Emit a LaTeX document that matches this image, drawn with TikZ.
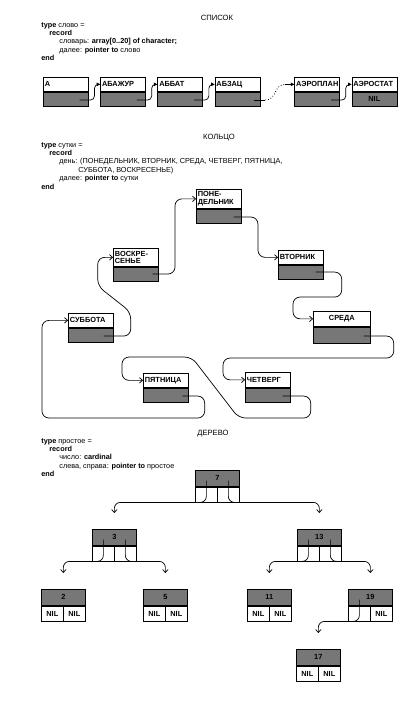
\documentclass[tikz,border=0pt]{standalone}
\usepackage{fontspec}
\setmainfont{Liberation Sans}
\usepackage{tikz}
\usetikzlibrary{arrows.meta,calc,positioning}
\definecolor{Shade}{HTML}{777777}
\newcommand\boxtext{\fontsize{7.4}{7.8}\selectfont\bfseries}
\newcommand\codetext{\fontsize{7.3}{8.4}\selectfont}
\newcommand\headtext{\fontsize{7.6}{9}\selectfont}

\begin{document}
\begin{tikzpicture}[x=1pt,y=-1pt,line width=0.7pt,>={Straight Barb[length=3pt,width=5.5pt]},
    wordbox/.style={draw,fill=white,anchor=north west,inner sep=1.5pt,text width=42pt,minimum height=14pt,align=left,font=\boxtext},
    nextbox/.style={draw,fill=Shade,minimum width=45pt,minimum height=14pt,inner sep=0pt,font=\boxtext},
    numbox/.style={draw,fill=Shade,anchor=north west,minimum width=44pt,minimum height=16pt,inner sep=0pt,font=\boxtext},
    cellbox/.style={draw,fill=white,minimum width=22pt,minimum height=15pt,inner sep=0pt,font=\boxtext},
    decl/.style={anchor=north west,align=left,inner sep=0pt,font=\codetext},
    heading/.style={font=\headtext},
    listarrow/.style={-{Triangle[length=3.5pt,width=3.5pt]}}]
  \useasboundingbox (0,0) rectangle (409,726);

  % list
  \node[heading] (list-title) at (217,18) {СПИСОК};
  \node[decl] (list-decl) at (41,22) {\textbf{type} слово =\\
    \hspace*{8pt}\textbf{record}\\
    \hspace*{18pt}словарь: \textbf{array[0..20] of character;}\\
    \hspace*{18pt}далее: \textbf{pointer to} слово\\
    \textbf{end}};
  \node[wordbox] (w1) at (43,77) {А};
  \node[wordbox,right=11.5pt of w1] (w2) {АБАЖУР};
  \node[wordbox,right=11.5pt of w2] (w3) {АББАТ};
  \node[wordbox,right=11.5pt of w3] (w4) {АБЗАЦ};
  \node[wordbox,right=34pt of w4] (w5) {АЭРОПЛАН};
  \node[wordbox,right=11.5pt of w5] (w6) {АЭРОСТАТ};
  \foreach \w in {w1,w2,w3,w4,w5}{\node[nextbox,below=0pt of \w] (\w-p) {};}
  \node[nextbox,below=0pt of w6] (w6-p) {NIL};
  \foreach \a/\b in {w1/w2,w2/w3,w3/w4,w5/w6}{
    \draw[listarrow,rounded corners=4pt] ($(\a-p.east)+(-9,1)$) -| ($(\a.east)!.5!(\b.west)$) -- (\b.west);}
  \coordinate (gap-a) at ($(w4-p.east)+(5,1)$);
  \coordinate (gap-b) at ($(w5.west)+(-9,0)$);
  \draw ($(w4-p.east)+(-6,1)$) -- (gap-a);
  \draw[dotted,thick] (gap-a) .. controls +(12,0) and +(-12,0) .. (gap-b);
  \draw[listarrow] (gap-b) -- (w5.west);

  % ring
  \node[heading] (ring-title) at (219,138) {КОЛЬЦО};
  \node[decl] (ring-decl) at (41,142) {\textbf{type} сутки =\\
    \hspace*{8pt}\textbf{record}\\
    \hspace*{18pt}день: (ПОНЕДЕЛЬНИК, ВТОРНИК, СРЕДА, ЧЕТВЕРГ, ПЯТНИЦА,\\
    \hspace*{37pt}СУББОТА, ВОСКРЕСЕНЬЕ)\\
    \hspace*{18pt}далее: \textbf{pointer to} сутки\\
    \textbf{end}};
  \node[wordbox,minimum height=19pt] (pon) at (196,189) {ПОНЕ-\\ДЕЛЬНИК};
  \node[wordbox] (vto) at (278,250) {ВТОРНИК};
  \node[wordbox,text width=54pt,align=center,minimum height=15pt] (sre) at (313,311) {СРЕДА};
  \node[wordbox,minimum height=15pt] (che) at (245,372) {ЧЕТВЕРГ};
  \node[wordbox] (pya) at (143,373) {ПЯТНИЦА};
  \node[wordbox] (sub) at (68,313) {СУББОТА};
  \node[wordbox,minimum height=18pt] (vos) at (113,248) {ВОСКРЕ-\\СЕНЬЕ};
  \foreach \d in {pon,vto,che,pya,sub,vos}{\node[nextbox,below=0pt of \d] (\d-p) {};}
  \node[nextbox,minimum width=57pt,minimum height=16pt,below=0pt of sre] (sre-p) {};
  \begin{scope}[rounded corners=7pt]
    \draw[->] ($(pon-p.east)+(-8,1)$) -| ($(vto.west)+(-20,0)$) -- (vto.west);
    \draw[->] ($(vto-p.east)+(-8,0)$) -- ++(26,0) -- ++(0,25) -| ($(sre.west)+(-20,0)$) -- (sre.west);
    \draw[->] ($(sre-p.east)+(-7,1)$) -- ++(30,0) -- ++(0,22) -| ($(che.west)+(-22,0)$) -- (che.west);
    \draw[->] ($(che-p.east)+(-8,1)$) -- ++(28,0) -- ++(0,22) -- ++(-72,0) -- ++(-47,-61) -| ($(pya.west)+(-21,0)$) -- (pya.west);
    \draw[->] ($(pya-p.east)+(-6,1)$) -- ++(22,0) -- ++(0,22) -| ($(sub.west)+(-26,0)$) -- (sub.west);
    \draw[->] ($(sub-p.east)+(-10,1)$) -- ++(27,0) -- ++(0,-24) -- ++(-33,-26) |- (vos.west);
    \draw[->] ($(vos-p.east)+(-6,0)$) -| ($(pon.west)+(-21,0)$) -- (pon.west);
  \end{scope}

  % tree
  \node[heading] (tree-title) at (213,434) {ДЕРЕВО};
  \node[decl] (tree-decl) at (41,438) {\textbf{type} простое =\\
    \hspace*{8pt}\textbf{record}\\
    \hspace*{18pt}число: \textbf{cardinal}\\
    \hspace*{18pt}слева, справа: \textbf{pointer to} простое\\
    \textbf{end}};
  \foreach \n/\x/\y/\l/\r in {7/195/470/{}/{},3/92/529/{}/{},13/297/529/{}/{},2/41/589/NIL/NIL,
      5/143/589/NIL/NIL,11/247/589/NIL/NIL,19/348/589/{}/NIL,17/296/649/NIL/NIL}{
    \node[numbox] (k\n) at (\x,\y) {\n};
    \node[cellbox,anchor=north west] (k\n-l) at (k\n.south west) {\l};
    \node[cellbox,anchor=north east] (k\n-r) at (k\n.south east) {\r};}
  \foreach \a/\b in {k7-l/k3,k7-r/k13,k3-l/k2,k3-r/k5,k13-l/k11,k13-r/k19,k19-l/k17}{
    \draw[->,rounded corners=6pt] ($(\a.north)+(0,-6)$) |- (\b.north |- \a.south) -- ($(\b.north)+(0,-16)$);}
\end{tikzpicture}
\end{document}
